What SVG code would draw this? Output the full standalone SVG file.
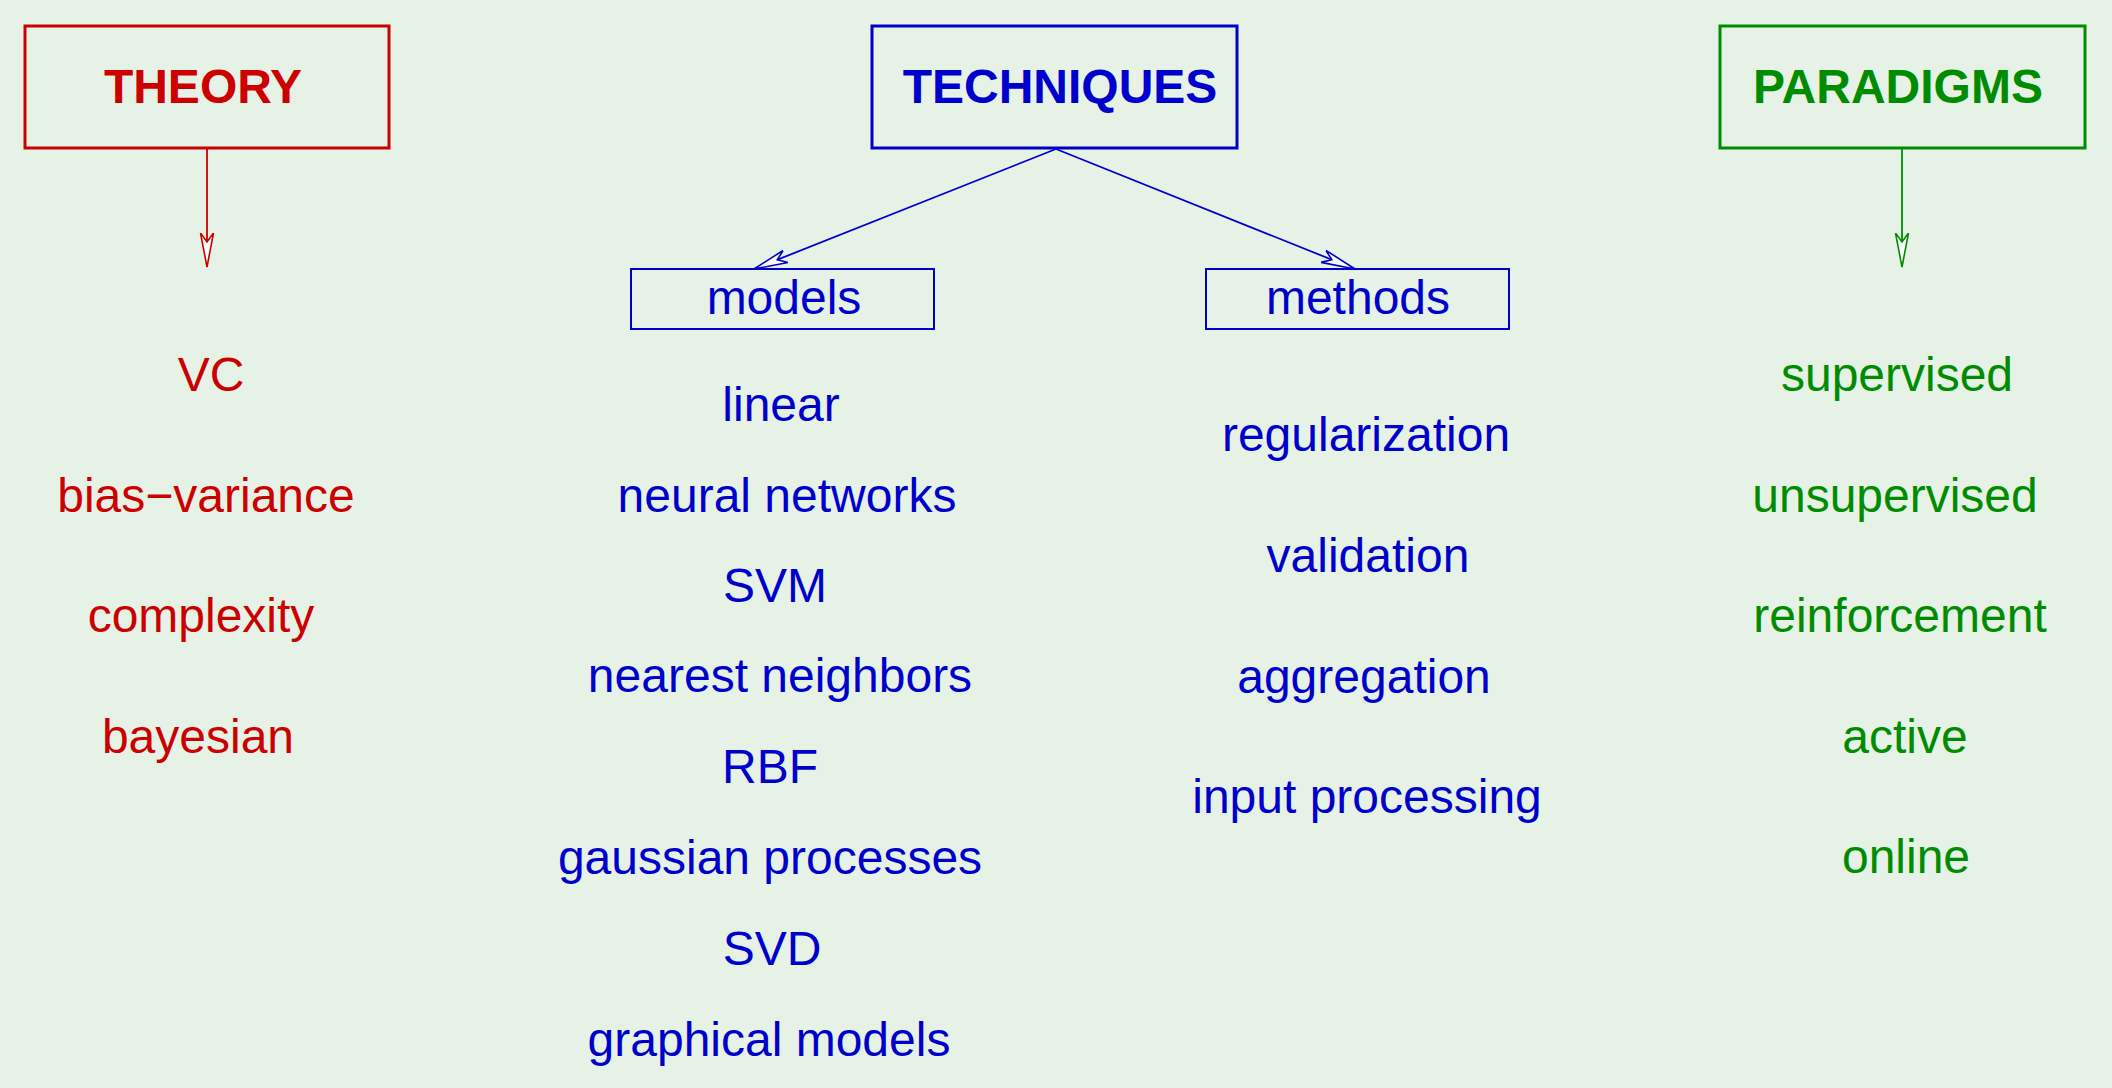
<svg xmlns="http://www.w3.org/2000/svg" width="2112" height="1088" viewBox="0 0 2112 1088">
<defs>
<style>
text{font-family:"Liberation Sans",Arial,sans-serif;font-size:48px;text-anchor:middle}
.h{font-weight:bold}
.red{fill:#cc0000}.blue{fill:#0000cc}.green{fill:#008c00}
.box{fill:none;stroke-width:3}
.sub{fill:none;stroke:#0000cc;stroke-width:2}
.ln{fill:none;stroke-width:1.8}
</style>
<marker id="ar" markerUnits="userSpaceOnUse" markerWidth="40" markerHeight="18" refX="34" refY="8" orient="auto"><path d="M0,1.5 L34,8 L0,14.5 L9,8 Z" fill="#ffffff" stroke="#cc0000" stroke-width="1.6"/></marker>
<marker id="ab" markerUnits="userSpaceOnUse" markerWidth="40" markerHeight="18" refX="34" refY="8" orient="auto"><path d="M0,1.5 L34,8 L0,14.5 L9,8 Z" fill="#ffffff" stroke="#0000cc" stroke-width="1.6"/></marker>
<marker id="ag" markerUnits="userSpaceOnUse" markerWidth="40" markerHeight="18" refX="34" refY="8" orient="auto"><path d="M0,1.5 L34,8 L0,14.5 L9,8 Z" fill="#ffffff" stroke="#008c00" stroke-width="1.6"/></marker>
</defs>
<rect x="0" y="0" width="2112" height="1088" fill="#e6f2e6"/>
<g id="connectors">
<line class="ln" x1="207" y1="149" x2="207" y2="267" stroke="#cc0000" marker-end="url(#ar)"/>
<line class="ln" x1="1056" y1="149" x2="754" y2="269" stroke="#0000cc" marker-end="url(#ab)"/>
<line class="ln" x1="1056" y1="149" x2="1355" y2="269" stroke="#0000cc" marker-end="url(#ab)"/>
<line class="ln" x1="1902" y1="149" x2="1902" y2="267" stroke="#008c00" marker-end="url(#ag)"/>
</g>
<g id="theory">
<rect class="box" x="25" y="26" width="364" height="122" stroke="#cc0000"/>
<text class="h red" x="203" y="103">THEORY</text>
</g>
<g id="techniques">
<rect class="box" x="872" y="26" width="365" height="122" stroke="#0000cc"/>
<text class="h blue" x="1060" y="103">TECHNIQUES</text>
</g>
<g id="paradigms">
<rect class="box" x="1720" y="26" width="365" height="122" stroke="#008c00"/>
<text class="h green" x="1898" y="103">PARADIGMS</text>
</g>
<g id="models">
<rect class="sub" x="631" y="269" width="303" height="60"/>
<text class="blue" x="784" y="314">models</text>
</g>
<g id="methods">
<rect class="sub" x="1206" y="269" width="303" height="60"/>
<text class="blue" x="1358" y="314">methods</text>
</g>
<g id="theory-items" class="red">
<text x="211" y="391">VC</text>
<text x="206" y="512">bias−variance</text>
<text x="201" y="632">complexity</text>
<text x="198" y="753">bayesian</text>
</g>
<g id="model-items" class="blue">
<text x="781" y="421">linear</text>
<text x="787" y="512">neural networks</text>
<text x="775" y="602">SVM</text>
<text x="780" y="692">nearest neighbors</text>
<text x="770" y="783">RBF</text>
<text x="770" y="874">gaussian processes</text>
<text x="772" y="965">SVD</text>
<text x="769" y="1056">graphical models</text>
</g>
<g id="method-items" class="blue">
<text x="1366" y="451">regularization</text>
<text x="1368" y="572">validation</text>
<text x="1364" y="693">aggregation</text>
<text x="1367" y="813">input processing</text>
</g>
<g id="paradigm-items" class="green">
<text x="1897" y="391">supervised</text>
<text x="1895" y="512">unsupervised</text>
<text x="1900" y="632">reinforcement</text>
<text x="1905" y="753">active</text>
<text x="1906" y="873">online</text>
</g>
</svg>
